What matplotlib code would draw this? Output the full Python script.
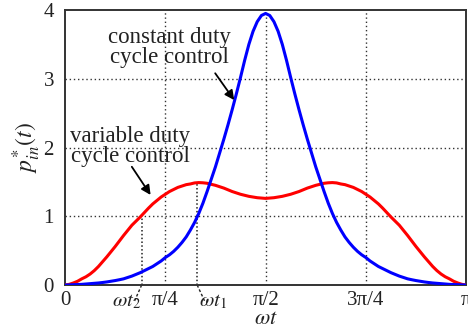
import numpy as np
import matplotlib
matplotlib.use("Agg")
import matplotlib.pyplot as plt

plt.rcParams['font.family'] = ['Liberation Serif', 'DejaVu Serif']
plt.rcParams['mathtext.fontset'] = 'stix'

# --- data (97 samples from 0 to pi) ---
wt = np.linspace(0, np.pi, 97)
p_const = [0.0, 0.002, 0.005, 0.007, 0.01, 0.015, 0.02, 0.025, 0.03, 0.037, 0.045, 0.055,
           0.065, 0.077, 0.09, 0.11, 0.13, 0.155, 0.18, 0.21, 0.24, 0.27, 0.31, 0.35,
           0.40, 0.44, 0.49, 0.55, 0.62, 0.70, 0.80, 0.91, 1.04, 1.19, 1.36, 1.54,
           1.72, 1.92, 2.12, 2.33, 2.55, 2.78, 3.02, 3.27, 3.50, 3.69, 3.83, 3.92,
           3.95,
           3.92, 3.83, 3.69, 3.50, 3.27, 3.02, 2.78, 2.55, 2.33, 2.12, 1.92, 1.72,
           1.54, 1.36, 1.19, 1.04, 0.91, 0.80, 0.70, 0.62, 0.55, 0.49, 0.44, 0.40,
           0.35, 0.31, 0.27, 0.24, 0.21, 0.18, 0.155, 0.13, 0.11, 0.09, 0.077, 0.065,
           0.055, 0.045, 0.037, 0.03, 0.025, 0.02, 0.015, 0.01, 0.007, 0.005, 0.002, 0.0]
p_var = [0.0, 0.01, 0.03, 0.055, 0.09, 0.12, 0.16, 0.21, 0.27, 0.34, 0.41, 0.485,
         0.56, 0.64, 0.72, 0.795, 0.87, 0.93, 0.99, 1.055, 1.12, 1.18, 1.23, 1.28,
         1.32, 1.36, 1.39, 1.42, 1.44, 1.46, 1.47, 1.485, 1.49, 1.487, 1.48, 1.465,
         1.45, 1.43, 1.41, 1.385, 1.36, 1.34, 1.32, 1.305, 1.29, 1.28, 1.27, 1.265,
         1.26,
         1.265, 1.27, 1.28, 1.29, 1.305, 1.32, 1.34, 1.36, 1.385, 1.41, 1.43, 1.45,
         1.465, 1.48, 1.487, 1.49, 1.485, 1.47, 1.46, 1.44, 1.42, 1.39, 1.36, 1.32,
         1.28, 1.23, 1.18, 1.12, 1.055, 0.99, 0.93, 0.87, 0.795, 0.72, 0.64, 0.56,
         0.485, 0.41, 0.34, 0.27, 0.21, 0.16, 0.12, 0.09, 0.055, 0.03, 0.01, 0.0]

wt2, wt2_val = 0.60, 1.0
wt1, wt1_val = 1.035, 1.49

xticks = [0, np.pi / 4, np.pi / 2, 3 * np.pi / 4, np.pi]
xticklabels = ['0', 'π/4', 'π/2', '3π/4', 'π']
yticks = [0, 1, 2, 3, 4]

TXT = '#222222'

fig = plt.figure(figsize=(4.68, 3.28), dpi=100)
ax = fig.add_axes([0.139, 0.131, 0.857, 0.8385])

# grid
for x in xticks[1:-1]:
    ax.axvline(x, color='#333333', lw=1.0, ls=(0, (1, 2)), zorder=1)
for y in yticks[1:-1]:
    ax.axhline(y, color='#333333', lw=1.0, ls=(0, (1, 2)), zorder=1)
ax.vlines([wt2, wt1], 0, [wt2_val, wt1_val], color='#222222', lw=1.1,
          ls=(0, (1, 1.5)), zorder=1)

ax.plot(wt, p_var, color='#ff0000', lw=2.2, zorder=3, solid_joinstyle='round')
ax.plot(wt, p_const, color='#0000ff', lw=2.2, zorder=3, solid_joinstyle='round')

ax.set_xlim(0, np.pi)
ax.set_ylim(0, 4)
ax.set_xticks(xticks)
ax.set_xticklabels(xticklabels)
ax.set_yticks(yticks)
ax.tick_params(length=0, labelsize=15, colors=TXT)
ax.tick_params(axis='x', pad=4)
ax.tick_params(axis='y', pad=8)
for s in ax.spines.values():
    s.set_color('#333333')
    s.set_linewidth(1.4)

ax.set_xlabel(r'$\omega t$', fontsize=16, color=TXT, labelpad=0)
ax.set_ylabel(r'$p_{in}^{*}(t)$', fontsize=17, color=TXT, labelpad=0)

# omega t labels with leader lines
for t0, lab, dx in [(wt2, r'$\omega t_2$', -0.115), (wt1, r'$\omega t_1$', 0.12)]:
    ax.plot([t0, t0 + dx * 0.5], [0, -0.24], color='#222222', lw=1.0,
            ls=(0, (2, 1.5)), clip_on=False)
    ax.text(t0 + dx, -0.1, lab, fontsize=15, color=TXT, ha='center', va='top')

# curve labels
ax.text(0.82, 3.46, 'constant duty\ncycle control', fontsize=16.5, color=TXT,
        ha='center', va='center', linespacing=0.95)
ax.text(0.51, 2.02, 'variable duty\ncycle control', fontsize=16.5, color=TXT,
        ha='center', va='center', linespacing=0.95)
arrow = dict(arrowstyle='-|>', color='black', lw=1.3, mutation_scale=14,
             shrinkA=0, shrinkB=0)
ax.annotate('', xy=(1.325, 2.69), xytext=(1.176, 3.08), arrowprops=arrow)
ax.annotate('', xy=(0.67, 1.31), xytext=(0.523, 1.72), arrowprops=arrow)

fig.savefig('out.png', dpi=100)
